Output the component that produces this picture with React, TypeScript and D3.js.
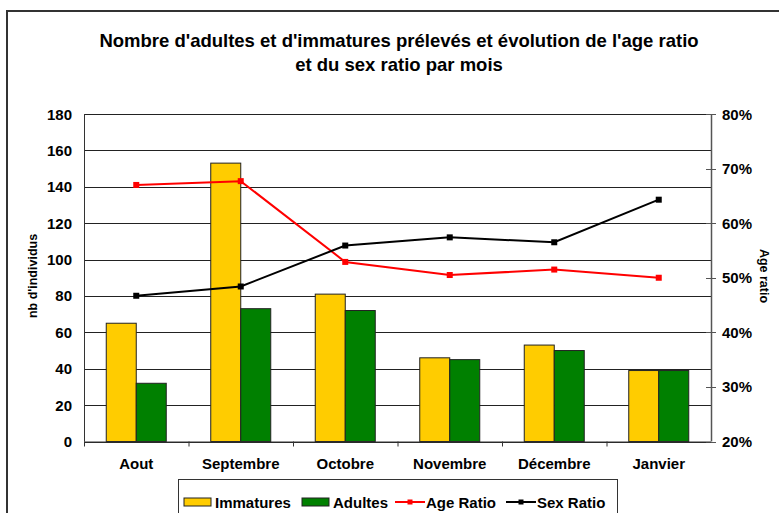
import React from "react";
import * as d3 from "d3";

const categories = ["Aout", "Septembre", "Octobre", "Novembre", "Décembre", "Janvier"];
const immatures = [65, 153, 81, 46, 53, 39];
const adultes = [32, 73, 72, 45, 50, 39];
const ageRatio = [0.67, 0.677, 0.529, 0.505, 0.515, 0.5];
const sexRatio = [0.467, 0.484, 0.559, 0.574, 0.565, 0.643];
const leftTicks = [0, 20, 40, 60, 80, 100, 120, 140, 160, 180];
const rightTicks = [0.2, 0.3, 0.4, 0.5, 0.6, 0.7, 0.8];

const W = 779;
const H = 513;
const m = { left: 84, right: 711, top: 114, bottom: 441.5 };
const FONT = "'Liberation Sans', Arial, sans-serif";
const FS = 15;

export default function App() {
  const x = d3.scaleBand<string>().domain(categories).range([m.left, m.right]).paddingInner(0).paddingOuter(0);
  const yL = d3.scaleLinear().domain([0, 180]).range([m.bottom, m.top]);
  const yR = d3.scaleLinear().domain([0.2, 0.8]).range([m.bottom, m.top]);
  const bw = 30;
  const cx = (c: string) => (x(c) as number) + x.bandwidth() / 2;
  const lineGen = (vals: number[]) =>
    d3.line<number>().x((_, i) => cx(categories[i])).y((v) => yR(v))(vals) as string;
  const fmt = d3.format(".0%");

  return (
    <svg width={W} height={H} style={{ position: "absolute", left: 0, top: 0 }} fontFamily={FONT}>
      <rect x={0} y={0} width={W} height={H} fill="#fff" />
      <path d={`M7,${H + 5} L7,11 L${W + 5},11`} fill="none" stroke="#333" strokeWidth={2} />
      <text x={399} y={47} textAnchor="middle" fontSize={18.5} fontWeight="bold">
        Nombre d'adultes et d'immatures prélevés et évolution de l'age ratio
      </text>
      <text x={399} y={71} textAnchor="middle" fontSize={18.5} fontWeight="bold">
        et du sex ratio par mois
      </text>
      {/* gridlines */}
      {leftTicks.map((t) => (
        <line key={"g" + t} x1={m.left} x2={m.right} y1={Math.round(yL(t)) + 0.5} y2={Math.round(yL(t)) + 0.5} stroke="#222" strokeWidth={1} />
      ))}
      {/* left tick labels */}
      {leftTicks.map((t) => (
        <text key={"l" + t} x={72} y={yL(t) + 5.5} textAnchor="end" fontSize={FS} fontWeight="bold">
          {t}
        </text>
      ))}
      {/* right axis */}
      <line x1={m.right + 0.5} x2={m.right + 0.5} y1={m.top} y2={m.bottom} stroke="#555" strokeWidth={1.5} />
      {rightTicks.map((t) => (
        <g key={"r" + t}>
          <line x1={m.right - 5} x2={m.right + 5} y1={Math.round(yR(t)) + 0.5} y2={Math.round(yR(t)) + 0.5} stroke="#555" />
          <text x={722} y={yR(t) + 5.5} fontSize={FS} fontWeight="bold">
            {fmt(t)}
          </text>
        </g>
      ))}
      {/* bars */}
      {categories.map((c, i) => (
        <g key={"b" + c}>
          <rect x={cx(c) - bw} y={yL(immatures[i])} width={bw} height={m.bottom - yL(immatures[i])} fill="#FFCC00" stroke="#222" strokeWidth={1} />
          <rect x={cx(c)} y={yL(adultes[i])} width={bw} height={m.bottom - yL(adultes[i])} fill="#008000" stroke="#222" strokeWidth={1} />
        </g>
      ))}
      {/* left axis */}
      <line x1={m.left + 0.5} x2={m.left + 0.5} y1={m.top} y2={m.bottom} stroke="#333" strokeWidth={1} />
      {/* x axis */}
      <line x1={m.left} x2={m.right} y1={m.bottom + 0.5} y2={m.bottom + 0.5} stroke="#333" strokeWidth={1} />
      {categories.map((c) => (
        <line key={"xt" + c} x1={(x(c) as number) + 0.5} x2={(x(c) as number) + 0.5} y1={m.bottom} y2={m.bottom + 5} stroke="#333" />
      ))}
      {categories.map((c) => (
        <text key={"xl" + c} x={cx(c)} y={469} textAnchor="middle" fontSize={FS} fontWeight="bold">
          {c}
        </text>
      ))}
      {/* lines */}
      <path d={lineGen(ageRatio)} fill="none" stroke="#FF0000" strokeWidth={2} />
      {ageRatio.map((v, i) => (
        <rect key={"ap" + i} x={cx(categories[i]) - 3} y={yR(v) - 3} width={6} height={6} fill="#FF0000" />
      ))}
      <path d={lineGen(sexRatio)} fill="none" stroke="#000" strokeWidth={2} />
      {sexRatio.map((v, i) => (
        <rect key={"sp" + i} x={cx(categories[i]) - 3} y={yR(v) - 3} width={6} height={6} fill="#000" />
      ))}
      {/* axis titles */}
      <text transform="translate(37,276) rotate(-90)" textAnchor="middle" fontSize={12.5} fontWeight="bold">
        nb d'individus
      </text>
      <text transform="translate(760,276) rotate(90)" textAnchor="middle" fontSize={12.5} fontWeight="bold">
        Age ratio
      </text>
      {/* legend */}
      <rect x={178.5} y={479.5} width={439} height={45} fill="#fff" stroke="#333" strokeWidth={1} />
      <rect x={184} y={498} width={27} height={8} fill="#FFCC00" stroke="#222" />
      <text x={215} y={507.5} fontSize={FS} fontWeight="bold">Immatures</text>
      <rect x={302} y={498} width={27} height={8} fill="#008000" stroke="#222" />
      <text x={333} y={507.5} fontSize={FS} fontWeight="bold">Adultes</text>
      <line x1={395} x2={425} y1={502} y2={502} stroke="#FF0000" strokeWidth={2} />
      <rect x={407.5} y={499.5} width={5} height={5} fill="#FF0000" />
      <text x={426} y={507.5} fontSize={FS} fontWeight="bold">Age Ratio</text>
      <line x1={506} x2={536} y1={502} y2={502} stroke="#000" strokeWidth={2} />
      <rect x={518.5} y={499.5} width={5} height={5} fill="#000" />
      <text x={537} y={507.5} fontSize={FS} fontWeight="bold">Sex Ratio</text>
    </svg>
  );
}
